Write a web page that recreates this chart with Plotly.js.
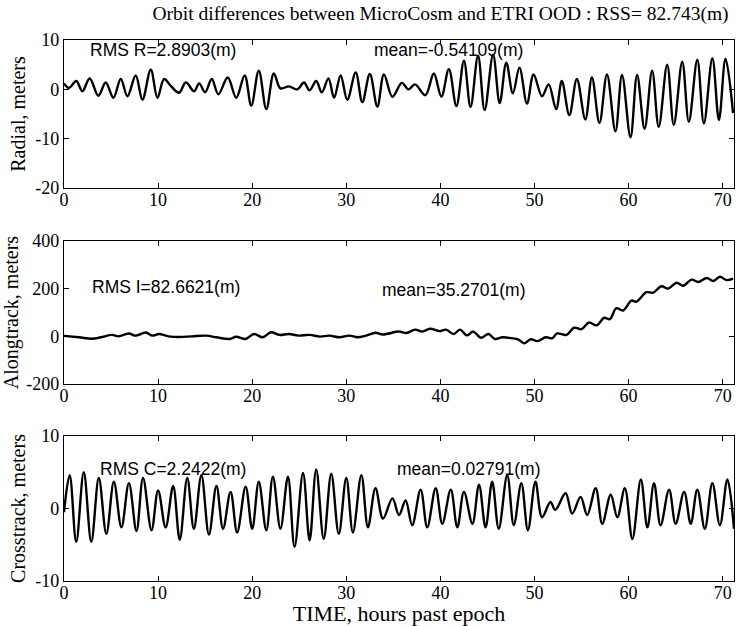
<!DOCTYPE html>
<html>
<head>
<meta charset="utf-8">
<script src="https://cdn.plot.ly/plotly-3.0.1.min.js"></script>
<style>html,body{margin:0;padding:0;background:#fff;}#chart{width:736px;height:626px;}</style>
</head>
<body>
<div id="chart"></div>
<script>
// ---- Data (extrema of each trace, hours past epoch) ----
const radialT = [0, 0.53, 1.31, 1.95, 2.73, 3.65, 4.43, 5.25, 6.03, 6.74, 7.62, 8.33, 9.22, 9.93, 10.64, 11.35, 12.23, 12.94, 13.83, 14.36, 15.0, 15.7, 16.4, 17.4, 18.3, 19.2, 19.9, 20.7, 21.5, 22.3, 23.0, 23.9, 24.8, 25.5, 26.1, 26.8, 27.4, 28.1, 28.7, 29.4, 30.1, 31.0, 31.7, 32.5, 33.3, 34.0, 34.9, 35.9, 36.6, 37.3, 38.4, 39.3, 40.1, 40.9, 41.7, 42.5, 43.2, 44.0, 44.7, 45.6, 46.3, 47.0, 47.7, 48.4, 49.2, 49.9, 50.8, 51.5, 52.3, 52.9, 53.7, 54.5, 55.4, 56.1, 56.9, 57.7, 58.6, 59.3, 60.2, 60.9, 61.7, 62.5, 63.2, 64.1, 64.8, 65.7, 66.4, 67.3, 68.0, 68.9, 69.6, 70.3, 71.1];
const radialV = [1.2, 0.3, 1.7, -0.4, 2.2, -1.3, 1.4, -1.7, 2.1, -1.4, 2.8, -2.1, 4.0, -1.7, 2.1, 0.7, -0.7, 1.4, -0.4, 1.2, -0.6, 2.1, -1.0, 2.4, -1.7, 2.8, -3.3, 3.8, -4.0, 3.2, 0.2, 0.6, 0.0, 1.4, -0.2, 1.7, -0.6, 2.2, -1.7, 2.8, -2.1, 3.4, -2.6, 3.1, -3.5, 3.0, -1.5, 1.3, 0.0, 1.0, -1.2, 3.2, -1.5, 4.1, -3.4, 5.8, -3.6, 6.8, -4.2, 7.0, -2.8, 5.4, -0.8, 4.4, -2.9, 3.0, -1.4, 1.0, -4.0, 1.7, -5.2, 2.1, -6.1, 2.4, -6.8, 3.0, -8.5, 2.9, -9.7, 2.9, -8.0, 3.8, -7.6, 5.0, -7.2, 5.6, -6.6, 6.0, -6.9, 6.3, -6.2, 6.2, -4.8];

const alongT = [0, 1.6, 3.0, 3.9, 5.1, 5.8, 6.9, 7.6, 8.7, 9.4, 10.1, 11.1, 12.2, 13.6, 15.1, 16.2, 17.6, 18.3, 19.3, 20.2, 21.1, 22.0, 22.9, 23.9, 24.9, 26.1, 27.2, 28.2, 29.3, 30.3, 31.2, 32.1, 33.1, 33.9, 35.6, 36.4, 37.3, 38.1, 38.9, 39.9, 40.6, 41.4, 42.1, 42.8, 43.5, 44.3, 45.1, 45.8, 46.6, 47.6, 48.3, 48.9, 49.6, 50.3, 51.2, 51.9, 52.4, 53.4, 54.2, 55.0, 55.8, 56.6, 57.4, 58.0, 58.7, 59.4, 60.3, 60.8, 61.9, 62.6, 63.5, 64.2, 65.1, 65.8, 66.7, 67.4, 68.3, 69.0, 69.7, 70.4, 71.1];
const alongV = [2, -4, -10, -4, 6, 0, 12, 3, 16, 3, 10, 0, -3, 0, 3, -4, -11, -2, -11, 10, -4, 17, 6, 10, 3, 6, -1, 3, -4, 3, -4, 3, 15, 8, 20, 14, 28, 20, 32, 22, 28, 10, 28, 4, 20, -6, 10, -11, -4, -8, -14, -29, -12, -20, -4, -8, 12, 6, 36, 30, 58, 46, 78, 72, 118, 108, 150, 145, 185, 183, 210, 200, 225, 212, 238, 228, 245, 232, 250, 236, 242];

const crossT = [0, 0.6, 1.3, 2.1, 2.9, 3.7, 4.5, 5.3, 6.1, 6.9, 7.7, 8.4, 9.3, 10.0, 10.8, 11.6, 12.3, 13.1, 13.8, 14.6, 15.4, 16.2, 16.9, 17.7, 18.4, 19.3, 20.0, 20.7, 21.5, 22.2, 23.0, 23.8, 24.5, 25.4, 26.1, 26.8, 27.6, 28.4, 29.2, 30.0, 30.7, 31.6, 32.3, 33.1, 33.9, 34.9, 35.6, 36.3, 37.0, 37.9, 38.6, 39.5, 40.2, 41.1, 41.8, 42.5, 43.4, 44.1, 44.8, 45.5, 46.2, 47.1, 47.8, 48.6, 49.3, 50.1, 50.8, 51.7, 52.2, 53.3, 54.0, 54.9, 55.6, 56.5, 57.2, 58.1, 58.8, 59.6, 60.4, 61.3, 62.0, 62.7, 63.4, 64.3, 65.0, 65.9, 66.6, 67.3, 68.1, 68.9, 69.7, 70.5, 71.2];
const crossV = [-0.5, 4.6, -4.6, 5.0, -4.6, 4.2, -3.5, 3.7, -2.6, 3.5, -3.1, 4.2, -3.0, 2.5, -2.6, 3.1, -4.3, 4.2, -2.8, 4.6, -3.6, 3.1, -2.8, 2.3, -3.3, 3.0, -2.8, 3.7, -3.0, 4.4, -2.8, 4.4, -5.3, 4.9, -4.4, 5.4, -4.2, 4.8, -3.5, 4.2, -3.3, 4.6, -2.6, 2.8, -1.4, 1.4, -0.9, 1.1, -2.3, 2.6, -2.6, 2.8, -2.1, 2.6, -2.6, 2.3, -2.1, 3.3, -2.6, 3.7, -2.8, 4.6, -2.3, 3.5, -3.0, 3.7, -1.2, 0.9, -0.2, 2.1, -0.7, 1.6, -0.9, 2.8, -2.1, 1.9, -1.2, 2.8, -4.2, 4.0, -2.6, 3.5, -2.3, 2.6, -2.1, 2.3, -2.1, 2.6, -2.8, 3.5, -2.3, 4.0, -2.8];

const xTicks = [0, 10, 20, 30, 40, 50, 60, 70];
const yTicksR = [-20, -10, 0, 10];
const yTicksA = [-200, 0, 200, 400];
const yTicksC = [-10, 0, 10];
const titleText = 'Orbit differences between MicroCosm and ETRI OOD : RSS= 82.743(m)';
const yTitles = ['Radial, meters', 'Alongtrack, meters', 'Crosstrack, meters'];
const xTitleText = 'TIME, hours past epoch';
const notes = [
  {text: 'RMS R=2.8903(m)', x: 2.5, y: 8.0, ax: 'x', ay: 'y'},
  {text: 'mean=-0.54109(m)', x: 32.7, y: 8.0, ax: 'x', ay: 'y'},
  {text: 'RMS I=82.6621(m)', x: 2.8, y: 207, ax: 'x2', ay: 'y2'},
  {text: 'mean=35.2701(m)', x: 33.6, y: 194, ax: 'x2', ay: 'y2'},
  {text: 'RMS C=2.2422(m)', x: 3.6, y: 5.4, ax: 'x3', ay: 'y3'},
  {text: 'mean=0.02791(m)', x: 35.2, y: 5.4, ax: 'x3', ay: 'y3'}
];

const serif = 'Liberation Serif, Times New Roman, serif';
const sans = 'Liberation Sans, Arial, sans-serif';
const lineStyle = {color: '#000', width: 2.4, shape: 'spline', smoothing: 1};

const traces = [
  {x: radialT, y: radialV, xaxis: 'x', yaxis: 'y', type: 'scatter', mode: 'lines', line: lineStyle},
  {x: alongT, y: alongV, xaxis: 'x2', yaxis: 'y2', type: 'scatter', mode: 'lines', line: lineStyle},
  {x: crossT, y: crossV, xaxis: 'x3', yaxis: 'y3', type: 'scatter', mode: 'lines', line: lineStyle}
];

function xax(anchor, withTitle) {
  const a = {
    anchor: anchor, range: [0, 71.2], tickvals: xTicks, ticktext: xTicks.map(String),
    showline: true, mirror: 'ticks', linecolor: '#000', linewidth: 1.2,
    ticks: 'inside', ticklen: 5, tickcolor: '#000', showgrid: false, zeroline: false,
    ticklabelstandoff: -5,
    tickfont: {family: serif, size: 18, color: '#000'}
  };
  if (withTitle) a.title = {text: xTitleText, font: {family: serif, size: 22, color: '#000'}, standoff: 0};
  return a;
}
function yax(anchor, dom, range, tv, title) {
  return {
    anchor: anchor, domain: dom, range: range, tickvals: tv, ticktext: tv.map(String),
    showline: true, mirror: 'ticks', linecolor: '#000', linewidth: 1.2,
    ticks: 'inside', ticklen: 5, tickcolor: '#000', showgrid: false, zeroline: false,
    tickfont: {family: serif, size: 18, color: '#000'},
    title: {text: title, font: {family: serif, size: 20, color: '#000'}, standoff: 4}
  };
}

const layout = {
  width: 736, height: 626,
  margin: {l: 64, r: 2, t: 40, b: 45},
  paper_bgcolor: '#fff', plot_bgcolor: '#fff',
  showlegend: false,
  title: {text: titleText, font: {family: serif, size: 19.5, color: '#000'}, x: 0.562, xanchor: 'center', xref: 'paper', y: 0.99, yanchor: 'top'},
  xaxis: xax('y', false),
  xaxis2: xax('y2', false),
  xaxis3: xax('y3', true),
  yaxis: yax('x', [0.7264, 1], [-20, 10], yTicksR, yTitles[0]),
  yaxis2: yax('x2', [0.3641, 0.6285], [-200, 400], yTicksA, yTitles[1]),
  yaxis3: yax('x3', [0, 0.268], [-10, 10], yTicksC, yTitles[2]),
  annotations: notes.map(n => ({
    text: n.text, x: n.x, y: n.y, xref: n.ax, yref: n.ay, xanchor: 'left', yanchor: 'middle',
    showarrow: false, font: {family: sans, size: 17.5, color: '#000'}
  }))
};

Plotly.newPlot('chart', traces, layout, {staticPlot: true, displayModeBar: false});
</script>
</body>
</html>
